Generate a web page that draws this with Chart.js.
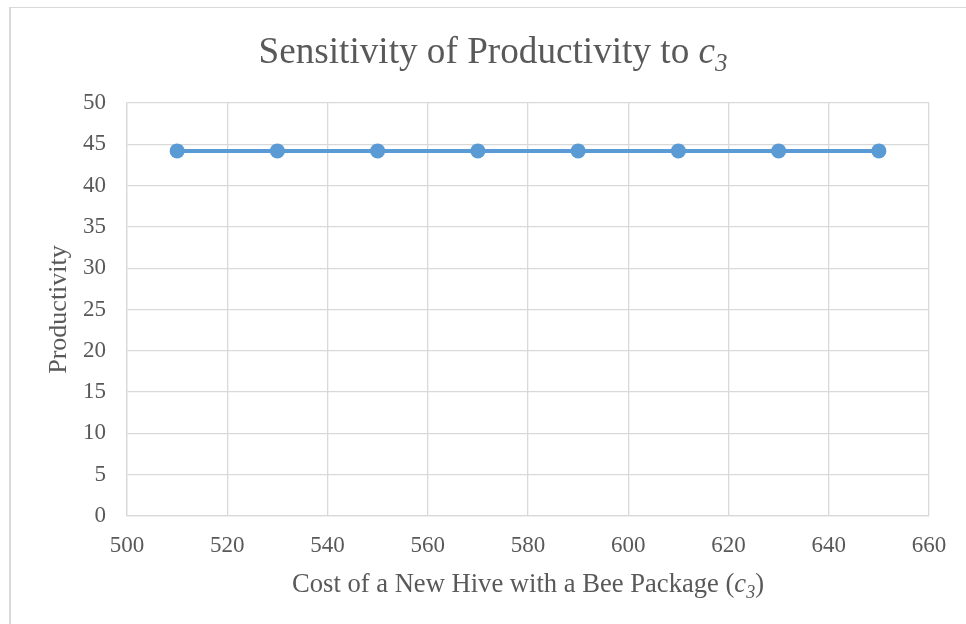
<!DOCTYPE html>
<html>
<head>
<meta charset="utf-8">
<script src="https://cdn.jsdelivr.net/npm/chart.js@4"></script>
<style>
  html, body { margin: 0; padding: 0; background: #ffffff; }
  #wrap { width: 966px; height: 624px; position: relative; }
</style>
</head>
<body>
<div id="wrap"><canvas id="chart" width="966" height="624"></canvas></div>
<script>
// Cost of a new hive with a bee package (c3) and resulting productivity
const costs = [510, 530, 550, 570, 590, 610, 630, 650];
const productivity = [44.2, 44.2, 44.2, 44.2, 44.2, 44.2, 44.2, 44.2];
const xTickValues = [500, 520, 540, 560, 580, 600, 620, 640, 660];
const yTickValues = [0, 5, 10, 15, 20, 25, 30, 35, 40, 45, 50];

const SERIF = '"Liberation Serif", "Times New Roman", serif';
const TEXT_COLOR = '#595959';
const GRID_COLOR = '#d9d9d9';
const LINE_COLOR = '#5b9bd5';

// Draws a run of text pieces, some italic and some subscript, centred on cx.
function drawRichText(ctx, pieces, cx, baseline, size) {
  const fontFor = p => {
    const s = p.sub ? Math.round(size * 0.66) : size;
    return (p.italic ? 'italic ' : '') + s + 'px ' + SERIF;
  };
  let total = 0;
  const widths = pieces.map(p => {
    ctx.font = fontFor(p);
    const w = ctx.measureText(p.text).width;
    total += w;
    return w;
  });
  let x = cx - total / 2;
  ctx.fillStyle = TEXT_COLOR;
  ctx.textAlign = 'left';
  ctx.textBaseline = 'alphabetic';
  pieces.forEach((p, i) => {
    ctx.font = fontFor(p);
    ctx.fillText(p.text, x, baseline + (p.sub ? size * 0.22 : 0));
    x += widths[i];
  });
}

const titlePieces = [
  { text: 'Sensitivity of Productivity to ' },
  { text: 'c', italic: true },
  { text: '3', italic: true, sub: true }
];
const xTitlePieces = [
  { text: 'Cost of a New Hive with a Bee Package (' },
  { text: 'c', italic: true },
  { text: '3', italic: true, sub: true },
  { text: ')' }
];

const decorations = {
  id: 'decorations',
  beforeDraw(chart) {
    const ctx = chart.ctx;
    ctx.save();
    ctx.fillStyle = '#ffffff';
    ctx.fillRect(0, 0, chart.width, chart.height);
    // chart frame (top and left edges)
    ctx.fillStyle = GRID_COLOR;
    ctx.fillRect(9, 7, chart.width - 9, 1);
    ctx.fillRect(9, 7, 2, chart.height - 7);
    ctx.restore();
  },
  afterDraw(chart) {
    const ctx = chart.ctx;
    const area = chart.chartArea;
    ctx.save();
    drawRichText(ctx, titlePieces, 493, 63, 37.2);
    drawRichText(ctx, xTitlePieces, (area.left + area.right) / 2, 592, 26.6);
    ctx.restore();
  }
};

new Chart(document.getElementById('chart'), {
  type: 'line',
  data: {
    datasets: [{
      data: costs.map((c, i) => ({ x: c, y: productivity[i] })),
      borderColor: LINE_COLOR,
      backgroundColor: LINE_COLOR,
      borderWidth: 4,
      pointRadius: 7.5,
      pointHoverRadius: 7.5,
      pointBorderWidth: 0,
      pointBackgroundColor: LINE_COLOR,
      tension: 0
    }]
  },
  options: {
    responsive: false,
    animation: false,
    devicePixelRatio: 1,
    layout: { padding: { top: 103, right: 37, left: 0, bottom: 0 } },
    plugins: {
      legend: { display: false },
      title: { display: false },
      tooltip: { enabled: false }
    },
    scales: {
      x: {
        type: 'linear',
        min: 500,
        max: 660,
        afterBuildTicks: s => { s.ticks = xTickValues.map(v => ({ value: v })); },
        afterFit: s => { s.height = 108; },
        ticks: {
          padding: 16,
          color: TEXT_COLOR,
          font: { family: SERIF, size: 23 },
          maxRotation: 0,
          autoSkip: false
        },
        grid: { color: GRID_COLOR, lineWidth: 1.3, drawTicks: false },
        border: { color: GRID_COLOR, width: 1.3 }
      },
      y: {
        min: 0,
        max: 50,
        afterBuildTicks: s => { s.ticks = yTickValues.map(v => ({ value: v })); },
        afterFit: s => { s.width = 127; },
        ticks: {
          padding: 21,
          color: TEXT_COLOR,
          font: { family: SERIF, size: 23 },
          autoSkip: false
        },
        grid: { color: GRID_COLOR, lineWidth: 1.3, drawTicks: false },
        border: { color: GRID_COLOR, width: 1.3 }
        ,
        title: {
          display: true,
          text: 'Productivity',
          color: TEXT_COLOR,
          font: { family: SERIF, size: 26 },
          padding: { top: 44, bottom: 0 }
        }
      }
    }
  },
  plugins: [decorations]
});
</script>
</body>
</html>
